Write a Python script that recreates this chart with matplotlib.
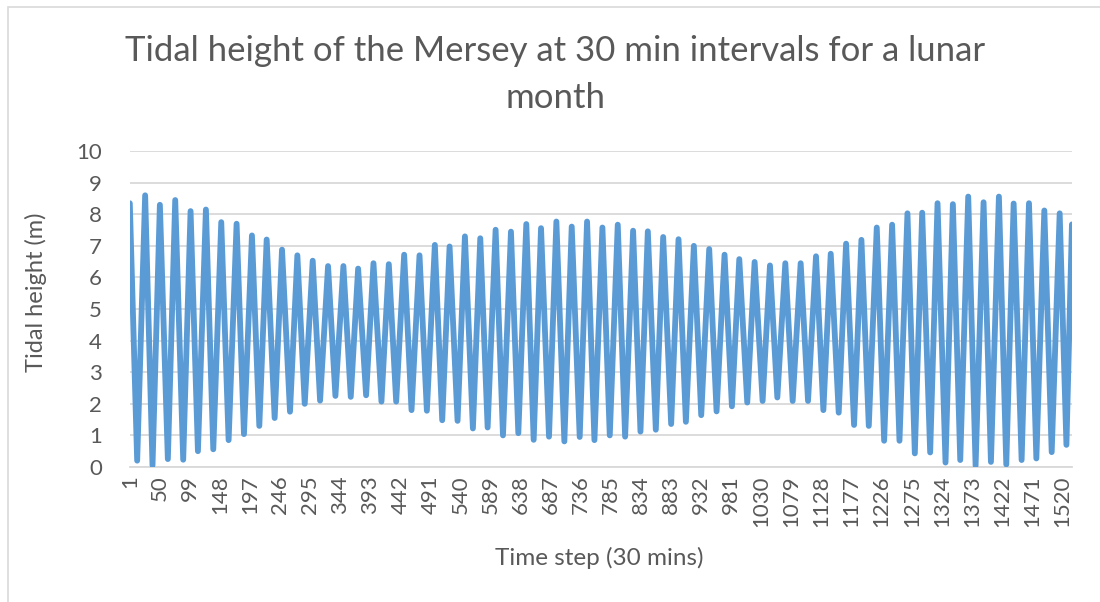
import numpy as np
import matplotlib
matplotlib.use("Agg")
import matplotlib.pyplot as plt
from matplotlib.patches import Rectangle

# High water: time step and height (m)
high_step = [1, 26, 50, 75, 100, 125, 150, 175, 200, 224,
             249, 274, 299, 324, 349, 373, 398, 423, 448, 473,
             498, 522, 547, 572, 597, 622, 647, 671, 696, 721,
             746, 771, 796, 821, 845, 870, 895, 920, 945, 970,
             994, 1019, 1044, 1069, 1094, 1119, 1143, 1168, 1193, 1218,
             1243, 1268, 1292, 1317, 1342, 1367, 1392, 1417, 1441, 1466,
             1491, 1516]
high_height = [8.35, 8.6, 8.3, 8.45, 8.1, 8.15, 7.75, 7.7, 7.33, 7.2,
               6.88, 6.7, 6.53, 6.36, 6.36, 6.28, 6.45, 6.42, 6.72, 6.7,
               7.03, 6.98, 7.3, 7.24, 7.51, 7.45, 7.69, 7.56, 7.77, 7.61,
               7.77, 7.58, 7.67, 7.48, 7.46, 7.28, 7.21, 7.0, 6.9, 6.72,
               6.58, 6.49, 6.38, 6.45, 6.45, 6.67, 6.75, 7.07, 7.19, 7.58,
               7.67, 8.03, 8.05, 8.35, 8.32, 8.56, 8.38, 8.56, 8.34, 8.35,
               8.12, 8.03]

# Low water: time step and height (m)
low_step = [13, 38, 63, 88, 112, 137, 162, 187, 212, 237,
            262, 286, 311, 336, 361, 386, 411, 435, 460, 485,
            510, 535, 560, 584, 609, 634, 659, 684, 709, 734,
            758, 783, 808, 833, 858, 883, 907, 932, 957, 982,
            1007, 1032, 1056, 1081, 1106, 1131, 1156, 1181, 1205, 1230,
            1255, 1280, 1305, 1330, 1354, 1379, 1404, 1429, 1454, 1478,
            1503, 1527]
low_height = [0.2, 0.05, 0.25, 0.23, 0.5, 0.56, 0.85, 1.04, 1.3, 1.55,
              1.75, 2.0, 2.1, 2.25, 2.22, 2.27, 2.07, 2.07, 1.8, 1.78,
              1.48, 1.46, 1.22, 1.25, 1.0, 1.07, 0.86, 0.96, 0.81, 0.95,
              0.85, 1.0, 0.96, 1.12, 1.18, 1.36, 1.43, 1.64, 1.76, 1.92,
              2.04, 2.09, 2.2, 2.09, 2.09, 1.8, 1.72, 1.33, 1.3, 0.83,
              0.83, 0.43, 0.46, 0.14, 0.22, 0.04, 0.16, 0.08, 0.22, 0.27,
              0.47, 0.7]

last_step = 1536
last_height = 7.68

tick_labels = [str(v) for v in range(1, 1521, 49)]
y_ticks = list(range(0, 11))

steps = np.column_stack([high_step, low_step]).ravel()
heights = np.column_stack([high_height, low_height]).ravel()
steps = np.append(steps, last_step)
heights = np.append(heights, last_height)

plt.rcParams['font.family'] = ['Lato', 'DejaVu Sans']
grey = '#595959'

fig = plt.figure(figsize=(11, 6.02), dpi=100)
ax = fig.add_axes([0.118, 0.2243, 0.8565, 0.5247])

ax.plot(steps, heights, color='#5B9BD5', lw=4.2,
        solid_joinstyle='round', solid_capstyle='round', zorder=3)

ax.set_xlim(1, last_step)
ax.set_ylim(0, 10)
ax.set_yticks(y_ticks)
ax.set_xticks([int(t) for t in tick_labels])
ax.set_xticklabels(tick_labels, rotation=90)
ax.tick_params(axis='both', length=0, labelsize=16, colors=grey)
ax.tick_params(axis='x', pad=6)
ax.tick_params(axis='y', pad=20)
ax.grid(axis='y', color='#D9D9D9', lw=1.3, zorder=0)
for s in ['left', 'right', 'top']:
    ax.spines[s].set_visible(False)
ax.spines['bottom'].set_color('#D9D9D9')
ax.spines['bottom'].set_linewidth(1.3)

fig.text(0.033, 0.515, 'Tidal height (m)', fontsize=17, color=grey,
         rotation=90, ha='center', va='center')
fig.text(0.545, 0.073, 'Time step (30 mins)', fontsize=17.5, color=grey,
         ha='center', va='center')
fig.text(0.505, 0.876, 'Tidal height of the Mersey at 30 min intervals for a lunar\nmonth',
         fontsize=25, color=grey, ha='center', va='center', linespacing=1.6)

# chart border
fig.patches.append(Rectangle((8 / 1100, -0.1), 1.2, 1.1 - 7 / 602,
                             transform=fig.transFigure, fill=False,
                             edgecolor='#D9D9D9', lw=1.2))

fig.savefig('out.png', dpi=100)
